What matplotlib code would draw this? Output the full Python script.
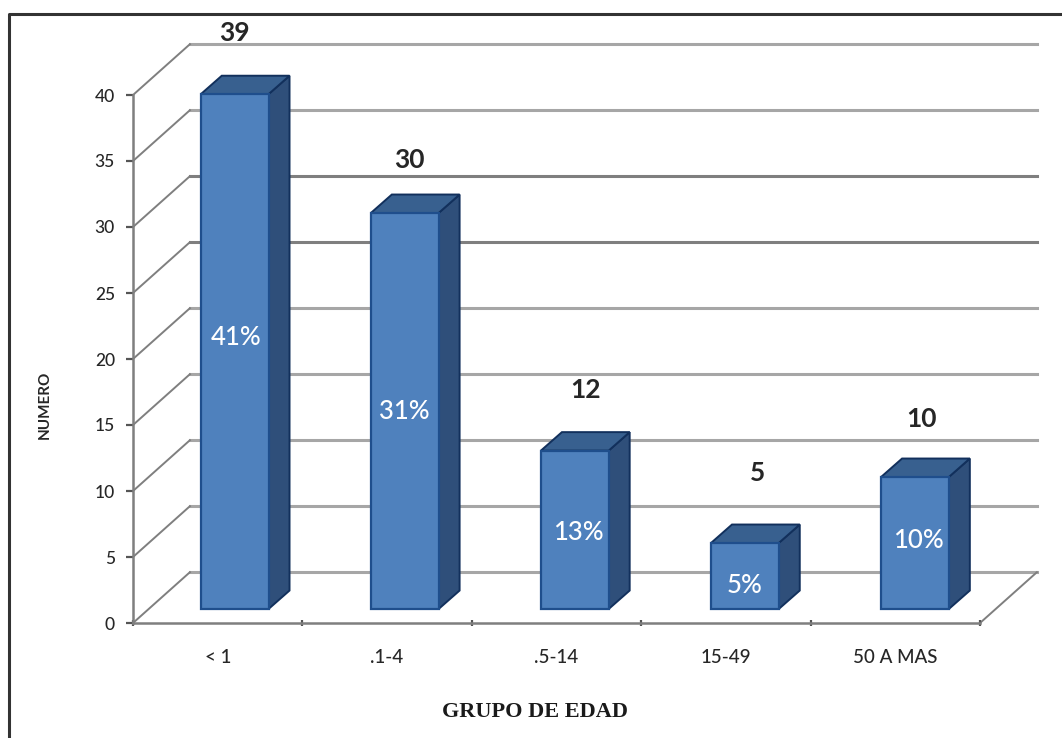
import numpy as np
import matplotlib
matplotlib.use("Agg")
import matplotlib.pyplot as plt
from matplotlib.lines import Line2D

grupos = ["< 1", ".1-4", ".5-14", "15-49", "50 A MAS"]
casos = [39, 30, 12, 5, 10]
porcentajes = ["41%", "31%", "13%", "5%", "10%"]
marcas_y = [0, 5, 10, 15, 20, 25, 30, 35, 40]

# profundidad de la caja y de las barras, en unidades de datos
caja_dx, caja_dy = 0.336, 3.85
barra_dx, barra_dy = 0.124, 1.40
piso = 1.06
ancho = 0.40
centro_dx = 0.10
paso = 1.004

# ajuste fino de las etiquetas (x en categorias, y en casos)
etq_dx = [0.0, 0.03, 0.065, 0.075, 0.04]
etq_dy = [4.6, 4.0, 4.6, 5.3, 4.4]
pct_dx = [0.01, 0.0, 0.02, 0.0, 0.02]
pct_dy = [1.1, 0.0, -0.2, -0.7, 0.2]

azul = "#4F81BD"
azul_borde = "#1F4E8C"
lateral = "#2F4F7A"
techo = "#38608F"
borde_osc = "#12305C"
gris = "#A6A6A6"
gris_osc = "#7F7F7F"

plt.rcParams["font.family"] = ["Lato", "DejaVu Sans"]

W, H = 1062, 738
fig = plt.figure(figsize=(W / 100, H / 100), dpi=100)
ax = fig.add_axes([133 / W, 1 - 623 / H, (980 - 133) / W, (623 - 95) / H])
ax.set_xlim(-0.5, 4.5)
ax.set_ylim(0, 40)
ax.patch.set_visible(False)

# paredes: lineas de fondo y diagonales
for v in marcas_y:
    color = gris_osc if v in (25, 30) else gris
    ax.plot([-0.5 + caja_dx, 4.5 + caja_dx], [v + caja_dy] * 2, color=color,
            lw=2.2, clip_on=False, zorder=1)
    ax.plot([-0.5, -0.5 + caja_dx], [v, v + caja_dy], color=gris_osc,
            lw=1.4, clip_on=False, zorder=1)
ax.plot([4.5, 4.5 + caja_dx], [0, caja_dy], color=gris_osc, lw=1.4,
        clip_on=False, zorder=1)

# barras 3D: cara frontal, lateral y techo
x = np.arange(len(casos)) * paso + centro_dx
alto = np.array(casos, dtype=float)
ax.bar(x, alto, ancho, bottom=piso, color=azul, edgecolor=azul_borde, lw=1.6,
       clip_on=False, zorder=4)
for xi, v in zip(x, alto):
    der = xi + ancho / 2
    izq = xi - ancho / 2
    arriba = v + piso
    ax.fill([der, der + barra_dx, der + barra_dx, der],
            [piso, piso + barra_dy, arriba + barra_dy, arriba],
            facecolor=lateral, edgecolor=borde_osc, lw=1.4, clip_on=False, zorder=3)
    ax.fill([izq, izq + barra_dx, der + barra_dx, der],
            [arriba, arriba + barra_dy, arriba + barra_dy, arriba],
            facecolor=techo, edgecolor=borde_osc, lw=1.4, clip_on=False, zorder=3)

for i, (xi, v) in enumerate(zip(x, alto)):
    ax.text(xi + etq_dx[i], v + piso + etq_dy[i], str(casos[i]), ha="center",
            va="center", fontsize=19, fontweight="bold", color="#262626", zorder=6)
    ax.text(xi + pct_dx[i], piso + v / 2 + pct_dy[i], porcentajes[i], ha="center",
            va="center", fontsize=18.5, fontweight="medium", color="white", zorder=6)

# ejes
for lado in ("top", "right"):
    ax.spines[lado].set_visible(False)
for lado in ("left", "bottom"):
    ax.spines[lado].set_color(gris_osc)
    ax.spines[lado].set_linewidth(1.8)

ax.set_yticks(marcas_y)
ax.set_yticklabels(marcas_y, fontweight="medium")
ax.tick_params(axis="y", length=5, width=1.6, color="#555555", labelsize=12.5,
               labelcolor="#262626", pad=8)
ax.set_xticks(np.arange(-0.5, 5.0, 1.0))
ax.set_xticklabels([])
ax.set_xticks(np.arange(len(grupos)), labels=grupos, minor=True, fontweight="medium")
ax.tick_params(axis="x", which="major", length=5, width=1.6, color="#555555",
               direction="inout")
ax.tick_params(axis="x", which="minor", length=0, labelsize=13.5,
               labelcolor="#262626", pad=19)

fig.text(45 / W, 1 - 405 / H, "NUMERO", rotation=90, ha="center", va="center",
         fontsize=11, fontweight="bold", color="#262626")
fig.text(535 / W, 1 - 712 / H, "GRUPO DE EDAD", ha="center", va="center",
         fontsize=16, fontweight="bold", family="Liberation Serif", color="#1a1a1a")

# marco exterior, abierto a la derecha y abajo
fig.add_artist(Line2D([9 / W, 9 / W, 1], [0, 1 - 14 / H, 1 - 14 / H],
                      color="#333333", lw=2.2))

fig.savefig("out.png", dpi=100)
